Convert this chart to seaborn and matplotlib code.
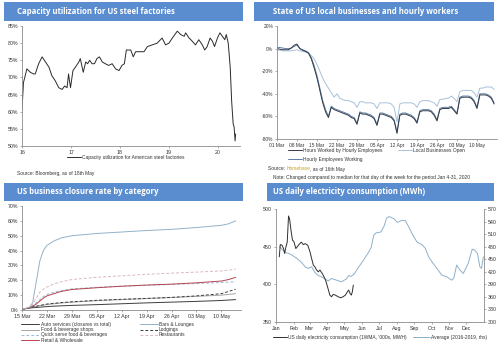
import matplotlib
matplotlib.use("Agg")
import matplotlib.pyplot as plt
import seaborn as sns
from matplotlib.patches import Rectangle

# ---------------- data ----------------
# Panel 1: steel capacity utilisation (%), x in fractional years
steel_year = [2016.00, 2016.03, 2016.10, 2016.17, 2016.24, 2016.27, 2016.34, 2016.41, 2016.48, 2016.55,
              2016.61, 2016.68, 2016.75, 2016.82, 2016.87, 2016.92, 2016.95, 2016.99, 2017.04, 2017.09,
              2017.16, 2017.19, 2017.25, 2017.30, 2017.34, 2017.38, 2017.43, 2017.48, 2017.53, 2017.58,
              2017.64, 2017.70, 2017.77, 2017.84, 2017.91, 2017.98, 2018.04, 2018.09, 2018.13, 2018.22,
              2018.27, 2018.32, 2018.39, 2018.49, 2018.56, 2018.66, 2018.76, 2018.86, 2018.93, 2019.00,
              2019.07, 2019.17, 2019.24, 2019.31, 2019.34, 2019.41, 2019.48, 2019.54, 2019.61, 2019.68,
              2019.73, 2019.78, 2019.84, 2019.89, 2019.93, 2019.99, 2020.04, 2020.09, 2020.14, 2020.17,
              2020.21, 2020.25, 2020.28, 2020.31, 2020.33, 2020.35, 2020.36]
steel_util = [60.5, 68.5, 72.5, 71.5, 71, 71, 74, 76, 74.5, 73,
              70.5, 69, 67, 66.5, 67.5, 67, 71, 67, 72, 73,
              74.5, 75.5, 71.5, 74.5, 74, 75, 74, 74, 75.5, 76,
              74.5, 74, 73.5, 74, 72.5, 72, 73.5, 74, 78, 78,
              76, 77.5, 77.5, 77.5, 79, 79.5, 80, 81.5, 79.5, 80,
              81.5, 83.5, 82.5, 82, 83, 81.5, 80.5, 79.5, 81, 79.5,
              78, 79, 81.5, 80.5, 79, 81.5, 83, 82, 81, 82.5,
              80, 73, 63, 56.5, 55.5, 51.5, 53.5]
steel_ticks = [2016, 2017, 2018, 2019, 2020]
steel_tick_labels = ["16", "17", "18", "19", "20"]

# Panel 2: Homebase, % change, daily from 01 Mar (day 0) to 16 May (day 76)
hb_hours = [0, -0.5, -1, -1, -1, 0.5, 3,
            4, 0, -1.5, -2.5, -4, -9, -17,
            -26, -37, -48, -56, -61, -52, -54,
            -55, -56, -57, -58, -59, -61, -62,
            -67, -57, -58, -58, -59, -60, -62,
            -68, -58, -58, -59, -60, -61, -64,
            -75, -59, -58, -58, -59, -60, -62,
            -66, -56, -55, -55, -55, -56, -59,
            -64, -54, -53, -53, -53, -52, -55,
            -58, -44, -43, -43, -43, -44, -47,
            -53, -41, -41, -41, -42, -44, -49]
hb_workers = [1, 1, 0.5, 0, 0, 0.5, 2,
              3, 0, -1, -2, -3.5, -8, -15,
              -24, -35, -46, -54, -60, -51, -53,
              -54, -55, -56, -57, -58, -60, -61,
              -66, -56, -57, -57, -58, -59, -61,
              -67, -57, -57, -58, -59, -60, -63,
              -74, -58, -57, -57, -58, -59, -61,
              -65, -55, -54, -54, -54, -55, -58,
              -63, -53, -52, -52, -52, -51, -54,
              -57, -43, -42, -42, -42, -43, -46,
              -52, -40, -40, -40, -41, -43, -48]
hb_open = [-1, -1.5, -2, -2, -2, -2, -1.5,
           -1, -2, -2.5, -3, -4, -6, -9,
           -14, -20, -26, -31, -35, -39, -43,
           -40, -44, -45, -46, -46, -47, -48,
           -52, -47, -47, -48, -48, -48, -49,
           -53, -48, -48, -48, -48, -49, -52,
           -65, -49, -48, -48, -48, -48, -49,
           -52, -47, -46, -46, -46, -47, -48,
           -51, -45, -45, -44, -44, -42, -44,
           -47, -38, -37, -37, -37, -37, -39,
           -43, -35, -35, -34, -34, -34, -36]
hb_tick_labels = ["01 Mar", "08 Mar", "15 Mar", "22 Mar", "29 Mar", "05 Apr",
                  "12 Apr", "19 Apr", "26 Apr", "03 May", "10 May"]

# Panel 3: closure rate (%), days since 15 Mar
cl_days = [0, 2, 3, 4, 5, 6, 7, 9, 11, 14, 21, 28, 35, 42, 49, 56, 58, 60]
cl_auto = [0.5, 1.2, 1.5, 1.7, 1.9, 2.1, 2.3, 2.6, 2.8, 3.1, 3.6, 4.2, 4.8, 5.3, 5.8, 6.4, 6.7, 7]
cl_food = [0.5, 1.5, 2, 2.5, 3, 3.3, 3.7, 4.2, 4.7, 5.3, 6.3, 7, 7.7, 8.4, 9.2, 10, 10.5, 11]
cl_quick = [0.5, 1.5, 3, 5, 7, 9, 10.5, 12, 13, 14.2, 15.3, 16, 16.6, 17.2, 17.8, 18.5, 18.8, 19]
cl_retail = [0.5, 1.5, 2.5, 4, 6, 8, 9.5, 11, 12.5, 13.8, 15, 16, 16.8, 17.4, 18.3, 19.5, 20.5, 22]
cl_bars = [0.5, 1.5, 5, 19, 33, 40, 43.5, 46.5, 48.5, 50, 51.5, 52.5, 53.5, 54.3, 55.5, 57, 58, 60]
cl_lodg = [0.5, 1.5, 2, 2.5, 3, 3.5, 4, 4.5, 5, 5.5, 6.5, 7.2, 7.8, 8.5, 9.5, 11, 12.5, 14]
cl_rest = [0.5, 2, 4, 8, 12, 14, 15.5, 17.5, 19, 20.5, 22, 23, 24, 24.8, 25.5, 26.3, 26.8, 27.5]
cl_tick_labels = ["15 Mar", "22 Mar", "29 Mar", "05 Apr", "12 Apr", "19 Apr", "26 Apr", "03 May", "10 May"]

# Panel 4: electricity, x = day of year
el_days_2020 = [5.8, 7.5, 10.4, 13.3, 15.1, 17.4, 19.7, 22.0, 23.8, 26.7, 29.0, 31.3, 34.8, 39.4,
                44.1, 48.1, 51.0, 55.7, 59.7, 62.6, 65.5, 68.4, 71.3, 74.2, 77.1, 80.0, 82.9, 87.0,
                90.4, 94.5, 97.4, 100.3, 104.3, 109.0, 113.6, 117.7, 121.7, 125.2, 127.5, 129.9,
                132.2, 133.9, 135.7]
el_2020 = [436.5, 452.8, 452, 447.5, 441, 449.7, 456, 490.7, 487, 469.6, 458.5, 457, 447.5, 452,
           456, 452.8, 454, 452, 443, 434, 425.5, 423, 419, 416.6, 419, 415.7, 412, 405.6,
           396.8, 385.7, 383.5, 386.6, 385.7, 383.5, 382.2, 383.5, 385.7, 390, 392.4, 388,
           385.7, 390, 399]
el_days_avg = [5.8, 10.4, 16.2, 22.0, 27.8, 36.5, 45.2, 51.0, 56.8, 62.6, 68.4, 74.2, 80.0, 85.8,
               91.6, 97.4, 106.1, 114.8, 123.5, 127.5, 132.2, 138.0, 143.8, 149.6, 155.4, 161.2,
               167.0, 171.6, 175.7, 184.0, 190.0, 194.0, 198.3, 207.0, 212.8, 221.5, 227.2, 233.0,
               238.8, 247.5, 256.0, 262.0, 267.8, 273.6, 282.3, 291.0, 299.7, 308.4, 312.0, 317.0,
               322.8, 328.6, 337.3, 344.3, 349.0, 353.6, 357.7, 360.6, 364.0]
el_avg = [480, 474, 466, 464, 460, 452, 442, 432, 428, 432, 418, 411, 408, 403,
          398, 404, 400, 396, 403, 411, 409, 416, 429, 440, 452, 464,
          478, 508, 513, 515, 530, 548, 552, 547, 538, 543, 542, 527,
          511, 491, 485, 476, 456, 444, 428, 412, 408, 400, 405, 436,
          424, 416, 440, 474, 471.5, 463.6, 432, 428, 456]
month_starts = [0, 31, 59, 90, 120, 151, 181, 212, 243, 273, 304, 334]
month_labels = ["Jan", "Feb", "Mar", "Apr", "May", "Jun", "Jul", "Aug", "Sep", "Oct", "Nov", "Dec"]

# ---------------- style ----------------
sns.set_theme(style="ticks")
plt.rcParams['font.family'] = ['Liberation Sans', 'DejaVu Sans']

W, H = 500, 345
fig = plt.figure(figsize=(W / 100, H / 100), dpi=100)
fig.patch.set_facecolor('white')

BAR = '#5a8dd0'
FS = 3.8      # tick labels
LFS = 3.5     # legend / notes
TXT = '#333333'
SPINE = '#8c8c8c'


def px_axes(x0, y0, x1, y1):
    return fig.add_axes([x0 / W, 1 - y1 / H, (x1 - x0) / W, (y1 - y0) / H])


def title_bar(x0, y0, x1, y1, text, tx):
    fig.patches.append(Rectangle((x0 / W, 1 - y1 / H), (x1 - x0) / W, (y1 - y0) / H,
                                 transform=fig.transFigure, facecolor=BAR, edgecolor='none', zorder=0))
    fig.text(tx / W, 1 - ((y0 + y1) / 2) / H, text, color='white', fontsize=5.6,
             fontweight='bold', va='center', ha='left', family=['Open Sans', 'DejaVu Sans'])


def style(ax, fs=FS):
    sns.despine(ax=ax)
    for s in ['left', 'bottom']:
        ax.spines[s].set_color(SPINE)
        ax.spines[s].set_linewidth(0.6)
    ax.tick_params(length=1.5, width=0.5, colors=SPINE, labelcolor=TXT, labelsize=fs, pad=1.2)
    ax.set_facecolor('none')
    ax.set_xlabel('')
    ax.set_ylabel('')


def add_legend(ax, handles, labels, x_line, y_top, hl=2.6, spacing=0.15):
    L = ax.legend(handles, labels, loc='upper left', bbox_to_anchor=(x_line / W, 1 - y_top / H),
                  bbox_transform=fig.transFigure, frameon=False, fontsize=LFS, handlelength=hl,
                  handletextpad=0.3, labelspacing=spacing, borderpad=0, borderaxespad=0)
    for t in L.get_texts():
        t.set_color(TXT)
    ax.legend_ = None          # keep it only once, as a plain artist
    ax.add_artist(L)


renderer = fig.canvas.get_renderer()


def ftext_seq(x, y, parts, fontsize=LFS):
    """Place consecutive text runs (string, colour) starting at pixel x."""
    for s, col in parts:
        t = fig.text(x / W, 1 - y / H, s, va='center', ha='left', fontsize=fontsize, color=col)
        x += t.get_window_extent(renderer=renderer).width


# ---------------- Panel 1 ----------------
title_bar(4, 2, 243, 21, "Capacity utilization for US steel factories", 17)
ax1 = px_axes(22, 26, 240, 146)
sns.lineplot(x=steel_year, y=steel_util, ax=ax1, color='#2b2b2b', lw=0.7)
ax1.set_xlim(2016, 2020.45)
ax1.set_ylim(50, 85)
ax1.set_yticks(range(50, 90, 5))
ax1.set_yticklabels([f"{v}%" for v in range(50, 90, 5)])
ax1.set_xticks(steel_ticks)
ax1.set_xticklabels(steel_tick_labels)
style(ax1)
add_legend(ax1, [ax1.lines[0]], ["Capacity utilization for American steel factories"], 67, 155, hl=2.8)
ftext_seq(17, 173, [("Source: Bloomberg, as of 18th May", TXT)])

# ---------------- Panel 2 ----------------
title_bar(254, 2, 494, 21, "State of US local businesses and hourly workers", 273)
ax2 = px_axes(277, 26, 497, 139)
hb_days = list(range(len(hb_hours)))
sns.lineplot(x=hb_days, y=hb_open, ax=ax2, color='#a9c1d9', lw=0.7)
sns.lineplot(x=hb_days, y=hb_workers, ax=ax2, color='#5b7fa6', lw=0.7)
sns.lineplot(x=hb_days, y=hb_hours, ax=ax2, color='#353a45', lw=0.7)
ax2.set_xlim(0, 77)
ax2.set_ylim(-80, 20)
ax2.set_yticks(range(-80, 40, 20))
ax2.set_yticklabels([f"{v}%" for v in range(-80, 40, 20)])
ax2.set_xticks(range(0, 77, 7))
ax2.set_xticklabels(hb_tick_labels)
style(ax2, fs=3.5)
l_open, l_work, l_hours = ax2.lines[0], ax2.lines[1], ax2.lines[2]
add_legend(ax2, [l_hours, l_work], ["Hours Worked by Hourly Employees", "Hourly Employees Working"],
           288, 148, hl=2.8, spacing=0.75)
add_legend(ax2, [l_open], ["Local Businesses Open"], 398, 148, hl=2.8)
ftext_seq(268, 169, [("Source: ", TXT), ("Homebase", '#c9a227'), (", as of 16th May", TXT)])
ftext_seq(273, 177, [("Note: Changed compared to median for that day of the week for the period Jan 4-31, 2020", TXT)])

# ---------------- Panel 3 ----------------
title_bar(4, 183, 243, 201, "US business closure rate by category", 17)
ax3 = px_axes(22, 206, 241, 310)
series3 = [
    ("Auto services (closures vs total)", cl_auto, '#3d3d3d', '-'),
    ("Food & beverage shops", cl_food, '#a6a6a6', '-'),
    ("Quick serve food & beverages", cl_quick, '#9fbad6', (0, (3, 2))),
    ("Retail & Wholesale", cl_retail, '#b5434f', '-'),
    ("Bars & Lounges", cl_bars, '#93b2c8', '-'),
    ("Lodgings", cl_lodg, '#3d3d3d', (0, (3, 2))),
    ("Restaurants", cl_rest, '#dcb6bd', (0, (3, 2))),
]
for name, vals, col, ls in series3:
    sns.lineplot(x=cl_days, y=vals, ax=ax3, color=col, lw=0.7, linestyle=ls)
ax3.set_xlim(0, 61.5)
ax3.set_ylim(0, 70)
ax3.set_yticks(range(0, 80, 10))
ax3.set_yticklabels([f"{v}%" for v in range(0, 80, 10)])
ax3.set_xticks(range(0, 57, 7))
ax3.set_xticklabels(cl_tick_labels)
style(ax3)
h3 = list(ax3.lines)
add_legend(ax3, h3[:4], [s[0] for s in series3[:4]], 21, 322, hl=3.8, spacing=0.05)
add_legend(ax3, h3[4:], [s[0] for s in series3[4:]], 140, 322, hl=3.6, spacing=0.05)

# ---------------- Panel 4 ----------------
title_bar(267, 183, 494, 201, "US daily electricity consumption (MWh)", 273)
ax4 = px_axes(276, 209, 484, 322)
ax4r = ax4.twinx()
sns.lineplot(x=el_days_avg, y=el_avg, ax=ax4r, color='#8fb0c9', lw=0.7)
sns.lineplot(x=el_days_2020, y=el_2020, ax=ax4, color='#2e2e2e', lw=0.7)
ax4.set_zorder(ax4r.get_zorder() + 1)
ax4.patch.set_visible(False)
ax4.set_xlim(0, 365)
ax4.set_ylim(350, 500)
ax4.set_yticks([350, 400, 450, 500])
ax4.set_xticks(month_starts)
ax4.set_xticklabels(month_labels)
ax4r.set_ylim(300, 570)
ax4r.set_yticks(range(300, 600, 30))
style(ax4)
for s in ['top', 'left', 'bottom']:
    ax4r.spines[s].set_visible(False)
ax4r.spines['right'].set_visible(True)
ax4r.spines['right'].set_color(SPINE)
ax4r.spines['right'].set_linewidth(0.6)
ax4r.tick_params(length=1.5, width=0.5, colors=SPINE, labelcolor=TXT, labelsize=FS, pad=1.2)
ax4r.set_ylabel('')
add_legend(ax4, [ax4.lines[0]], ["US daily electricity consumption (1WMA, '000s, MWH)"], 273, 335, hl=2.8)
add_legend(ax4, [ax4r.lines[0]], ["Average (2016-2019, rhs)"], 413, 335, hl=3.4)

fig.savefig("out.png", dpi=100, facecolor='white')
